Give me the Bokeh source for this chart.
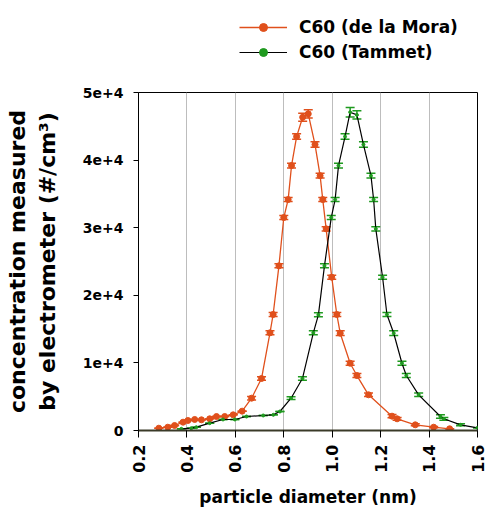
from bokeh.plotting import figure
from bokeh.layouts import column
from bokeh.models import (ColumnDataSource, Whisker, TeeHead, FixedTicker, Legend,
                          LegendItem, NumeralTickFormatter, Range1d)
from bokeh.embed import file_html
from bokeh.resources import INLINE
import math

# ---- data ----
mora_d = [0.284, 0.321, 0.349, 0.384, 0.404, 0.432, 0.46, 0.494, 0.522, 0.556, 0.591,
          0.628, 0.667, 0.708, 0.743, 0.756, 0.78, 0.80, 0.818, 0.832, 0.853, 0.878,
          0.901, 0.929, 0.95, 0.961, 0.975, 0.998, 1.019, 1.033, 1.074, 1.102, 1.15,
          1.247, 1.268, 1.343, 1.419, 1.485]
mora_c = [340, 490, 740, 1230, 1480, 1630, 1580, 1730, 2070, 2070, 2320,
          2860, 4780, 7690, 14450, 17160, 24360, 31500, 34160, 39190, 43480, 46340,
          46840, 42300, 37700, 34160, 29830, 22670, 17160, 14390, 9950, 8130, 5280,
          2120, 1730, 840, 490, 250]
mora_err = [0, 0, 0, 0, 0, 0, 0, 0, 0, 0, 0,
            0, 250, 250, 300, 300, 300, 300, 300, 350, 400, 600,
            600, 400, 350, 300, 300, 300, 300, 350, 300, 300, 250,
            250, 200, 150, 100, 0]

tammet_d = [0.377, 0.418, 0.439, 0.494, 0.549, 0.598, 0.646, 0.715, 0.757, 0.784, 0.83,
            0.877, 0.922, 0.943, 0.968, 0.996, 1.012, 1.026, 1.053, 1.074, 1.102,
            1.129, 1.16, 1.171, 1.18, 1.208, 1.226, 1.254, 1.288, 1.306, 1.357,
            1.447, 1.461, 1.53, 1.6]
tammet_c = [250, 340, 490, 1080, 1630, 1630, 2070, 2220, 2320, 2810, 4780,
            7690, 14450, 17110, 24360, 31500, 34160, 39190, 43480, 47080, 46690,
            42300, 37700, 34160, 29830, 22670, 17160, 14390, 9950, 8130, 5280,
            2070, 1730, 840, 400]
tammet_err = [0, 0, 0, 0, 0, 0, 0, 0, 0, 0, 200,
              250, 300, 300, 300, 300, 300, 350, 400, 700, 600,
              400, 350, 300, 300, 300, 300, 350, 300, 300, 250,
              250, 200, 150, 0]

series_labels = ["C60 (de la Mora)", "C60 (Tammet)"]
x_ticks = [0.2, 0.4, 0.6, 0.8, 1.0, 1.2, 1.4, 1.6]
y_ticks = [0, 10000, 20000, 30000, 40000, 50000]
y_tick_labels = ["0", "1e+4", "2e+4", "3e+4", "4e+4", "5e+4"]

FONT = "DejaVu Sans"
RED = "#e0501c"
GREEN = "#1f9a1f"
NAN = float("nan")

W = 488
H = 509
H1 = 64

# ---------------- legend strip (top) ----------------
top = figure(width=W, height=H1, output_backend="svg", toolbar_location=None,
             x_range=Range1d(0, 1), y_range=Range1d(0, 1),
             x_axis_type=None, y_axis_type=None,
             min_border_left=0, min_border_right=0, min_border_top=0, min_border_bottom=0)
top.outline_line_color = None
top.grid.grid_line_color = None
dl1 = top.line(x=[NAN], y=[NAN], line_color=RED, line_width=1.3)
ds1 = top.scatter(x=[NAN], y=[NAN], size=6, fill_color=RED, line_color=RED)
dl2 = top.line(x=[NAN], y=[NAN], line_color="black", line_width=1.2)
ds2 = top.scatter(x=[NAN], y=[NAN], size=3, fill_color=GREEN, line_color=GREEN)
legend = Legend(items=[LegendItem(label=series_labels[0], renderers=[dl1, ds1]),
                       LegendItem(label=series_labels[1], renderers=[dl2, ds2])],
                location=(101, 2), orientation="vertical",
                glyph_width=48, glyph_height=20, label_height=20,
                label_standoff=12, spacing=5, padding=0, margin=0,
                border_line_color=None, background_fill_alpha=0,
                label_text_font=FONT, label_text_font_style="bold",
                label_text_font_size="17px", label_text_color="black")
top.add_layout(legend, "center")

# ---------------- main plot ----------------
p = figure(width=W, height=H - H1, output_backend="svg", toolbar_location=None,
           x_range=Range1d(0.2, 1.6), y_range=Range1d(0, 50000),
           min_border_left=138, min_border_right=11, min_border_top=92 - H1,
           min_border_bottom=79)
p.background_fill_color = "white"
p.border_fill_color = "white"
p.outline_line_color = "black"
p.outline_line_width = 1

p.xgrid.ticker = FixedTicker(ticks=x_ticks)
p.xgrid.grid_line_color = "#bdbdbd"
p.ygrid.grid_line_color = None

p.xaxis.ticker = FixedTicker(ticks=x_ticks)
p.xaxis.formatter = NumeralTickFormatter(format="0.0")
p.xaxis.major_label_orientation = math.pi / 2
p.xaxis.minor_tick_line_color = None
p.xaxis.major_tick_out = 7
p.xaxis.major_tick_in = 0
p.xaxis.axis_line_color = "#3a3a28"
p.xaxis.axis_line_width = 2
p.xaxis.major_label_standoff = 7
p.xaxis.major_label_text_font = FONT
p.xaxis.major_label_text_font_style = "bold"
p.xaxis.major_label_text_font_size = "16px"
p.xaxis.major_label_text_color = "black"
p.xaxis.axis_label = "particle diameter (nm)"
p.xaxis.axis_label_text_font = FONT
p.xaxis.axis_label_text_font_style = "bold"
p.xaxis.axis_label_text_font_size = "17px"
p.xaxis.axis_label_text_color = "black"
p.xaxis.axis_label_standoff = 11

p.yaxis.ticker = FixedTicker(ticks=y_ticks)
p.yaxis.major_label_overrides = {t: l for t, l in zip(y_ticks, y_tick_labels)}
p.yaxis.minor_tick_line_color = None
p.yaxis.major_tick_out = 5
p.yaxis.major_tick_in = 0
p.yaxis.axis_line_color = "black"
p.yaxis.major_label_standoff = 10
p.yaxis.major_label_text_font = FONT
p.yaxis.major_label_text_font_style = "bold"
p.yaxis.major_label_text_font_size = "14px"
p.yaxis.major_label_text_color = "black"
p.yaxis.axis_label = "concentration measured\nby electrometer (#/cm\u00b3)"
p.yaxis.axis_label_text_font = FONT
p.yaxis.axis_label_text_font_style = "bold"
p.yaxis.axis_label_text_font_size = "22px"
p.yaxis.axis_label_text_color = "black"
p.yaxis.axis_label_standoff = 20

src_m = ColumnDataSource(dict(x=mora_d, y=mora_c,
                              lo=[c - e for c, e in zip(mora_c, mora_err)],
                              hi=[c + e for c, e in zip(mora_c, mora_err)]))
src_t = ColumnDataSource(dict(x=tammet_d, y=tammet_c,
                              lo=[c - e for c, e in zip(tammet_c, tammet_err)],
                              hi=[c + e for c, e in zip(tammet_c, tammet_err)]))

wm = Whisker(source=src_m, base="x", upper="hi", lower="lo", dimension="height",
             line_color=RED, line_width=1.5,
             upper_head=TeeHead(size=9, line_color=RED, line_width=1.5),
             lower_head=TeeHead(size=9, line_color=RED, line_width=1.5))
wt = Whisker(source=src_t, base="x", upper="hi", lower="lo", dimension="height",
             line_color=GREEN, line_width=1.5,
             upper_head=TeeHead(size=9, line_color=GREEN, line_width=1.5),
             lower_head=TeeHead(size=9, line_color=GREEN, line_width=1.5))
p.add_layout(wm)
p.add_layout(wt)

p.line("x", "y", source=src_m, line_color=RED, line_width=1.3)
p.scatter("x", "y", source=src_m, size=6, fill_color=RED, line_color=RED)
p.line("x", "y", source=src_t, line_color="black", line_width=1.2)
p.scatter("x", "y", source=src_t, size=3, fill_color=GREEN, line_color=GREEN)

layout = column(top, p, spacing=0)
open("out.html", "w").write(file_html(layout, INLINE))
